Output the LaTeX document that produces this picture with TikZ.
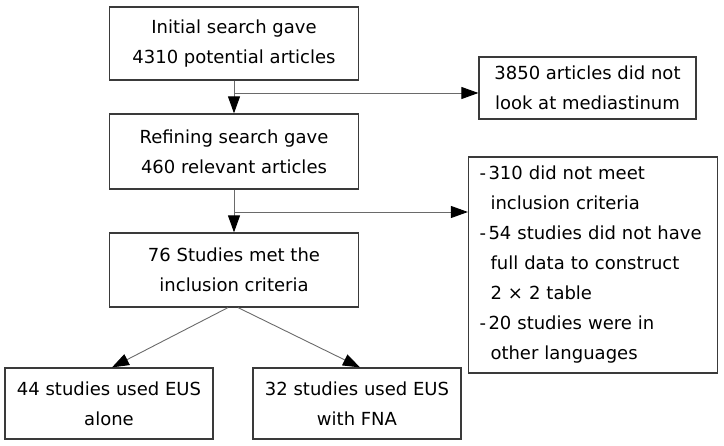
\documentclass[tikz,border=0pt]{standalone}
\usepackage{fontspec}
\setmainfont{DejaVu Sans}
\usetikzlibrary{arrows.meta}
\definecolor{boxline}{HTML}{3A3A3A}
\definecolor{conline}{HTML}{6A6A6A}
\tikzset{
  fbox/.style={draw=boxline, line width=1.2pt, inner sep=0pt, align=center,
    font=\fontsize{18}{30}\selectfont, text=black},
  con/.style={draw=conline, line width=0.9pt,
    -{Triangle[length=17pt,width=12pt,fill=black,color=black]}},
}
\newcommand{\dashline}[1]{\makebox[9pt][l]{-}#1}
\newcommand{\indline}[1]{\hspace*{11pt}#1}
\begin{document}
\begin{tikzpicture}[x=1pt,y=-1pt]
\useasboundingbox (0,0) rectangle (724,446);
\node[fbox, minimum width=249pt, minimum height=73pt] (b1) at (234,43.5)
  {Initial search gave\\4310 potential articles};
\node[fbox, minimum width=217pt, minimum height=62pt] (ex1) at (587.5,88)
  {3850 articles did not\\look at mediastinum};
\node[fbox, minimum width=249pt, minimum height=75pt] (b2) at (234,151.5)
  {Refining search gave\\460 relevant articles};
\node[fbox, minimum width=249pt, minimum height=216pt, align=left, text width=237pt, inner xsep=0pt] (ex2) at (593,265)
  {\hspace*{5pt}\dashline{310 did not meet}\\
   \hspace*{5pt}\indline{inclusion criteria}\\
   \hspace*{5pt}\dashline{54 studies did not have}\\
   \hspace*{5pt}\indline{full data to construct}\\
   \hspace*{5pt}\indline{2 × 2 table}\\
   \hspace*{5pt}\dashline{20 studies were in}\\
   \hspace*{5pt}\indline{other languages}};
\node[fbox, minimum width=249pt, minimum height=74pt] (b3) at (234,270)
  {76 Studies met the\\inclusion criteria};
\node[fbox, minimum width=208pt, minimum height=71pt] (bl) at (109,403.5)
  {44 studies used EUS\\alone};
\node[fbox, minimum width=208pt, minimum height=71pt] (br) at (357,403.5)
  {32 studies used EUS\\with FNA};
\coordinate (j1) at (234,93);
\coordinate (j2) at (234,212);
\draw[con] (b1) -- (b2);
\draw[con] (j1) -- (j1 -| ex1.west);
\draw[con] (b2) -- (b3);
\draw[con] (j2) -- (j2 -| ex2.west);
\draw[con] ([xshift=-6pt]b3.south) -- ([xshift=3pt]bl.north);
\draw[con] ([xshift=4pt]b3.south) -- ([xshift=3pt]br.north);
\end{tikzpicture}
\end{document}
